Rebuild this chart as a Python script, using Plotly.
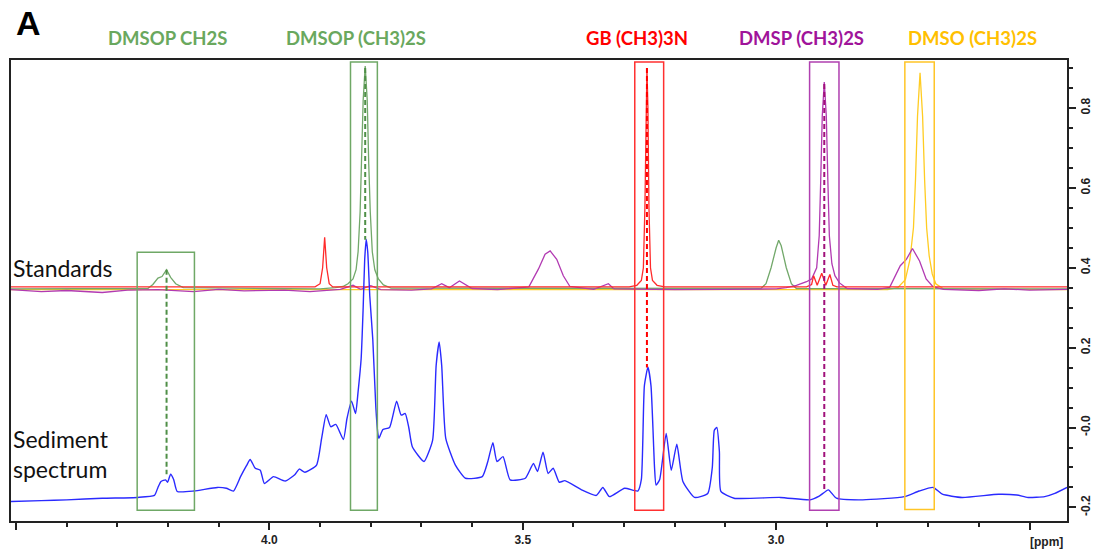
import plotly.graph_objects as go

# ---------------- data ----------------
blue_ppm = [4.51, 4.45, 4.40, 4.33, 4.26, 4.227, 4.22, 4.214, 4.205, 4.201, 4.195, 4.189, 4.182,
            4.149, 4.103, 4.085, 4.071, 4.057, 4.045, 4.038, 4.028, 4.018, 4.010, 3.992, 3.969,
            3.950, 3.941, 3.930, 3.907, 3.897, 3.888, 3.879, 3.869, 3.854, 3.847, 3.838, 3.830,
            3.825, 3.819, 3.815, 3.812, 3.809, 3.806, 3.802, 3.796, 3.790, 3.786, 3.784, 3.776,
            3.763, 3.749, 3.740, 3.732, 3.725, 3.718, 3.695, 3.678, 3.671, 3.665, 3.660, 3.652,
            3.633, 3.613, 3.580, 3.569, 3.559, 3.551, 3.539, 3.525, 3.495, 3.479, 3.471, 3.460,
            3.450, 3.440, 3.428, 3.417, 3.384, 3.355, 3.342, 3.329, 3.299, 3.273, 3.266, 3.260,
            3.253, 3.247, 3.240, 3.237, 3.230, 3.217, 3.207, 3.196, 3.184, 3.161, 3.135, 3.126,
            3.122, 3.117, 3.112, 3.109, 3.083, 2.992, 2.933, 2.915, 2.897, 2.881, 2.829, 2.747,
            2.718, 2.690, 2.672, 2.633, 2.561, 2.525, 2.503, 2.470, 2.450, 2.426]
blue_val = [-0.185, -0.183, -0.181, -0.177, -0.175, -0.170, -0.150, -0.135, -0.131, -0.137, -0.117,
            -0.130, -0.160, -0.159, -0.150, -0.152, -0.159, -0.123, -0.095, -0.080, -0.102, -0.107,
            -0.140, -0.123, -0.134, -0.118, -0.104, -0.112, -0.094, -0.027, 0.032, 0.002, 0.008,
            -0.030, 0.022, 0.066, 0.035, 0.090, 0.172, 0.300, 0.420, 0.471, 0.440, 0.330, 0.220,
            0.050, -0.015, -0.027, -0.005, 0.000, 0.066, 0.031, 0.035, 0.000, -0.048, -0.085,
            -0.032, 0.155, 0.214, 0.155, -0.027, -0.094, -0.127, -0.123, -0.085, -0.038, -0.085,
            -0.073, -0.131, -0.127, -0.090, -0.110, -0.062, -0.115, -0.102, -0.137, -0.133, -0.156,
            -0.170, -0.150, -0.173, -0.152, -0.159, -0.130, 0.105, 0.151, 0.105, -0.100, -0.144,
            -0.131, -0.015, -0.107, -0.042, -0.135, -0.175, -0.165, -0.100, -0.007, 0.000, -0.060,
            -0.160, -0.177, -0.175, -0.181, -0.172, -0.156, -0.177, -0.181, -0.173, -0.159, -0.150,
            -0.167, -0.175, -0.167, -0.169, -0.175, -0.173, -0.165, -0.150]

green_ppm = [4.51, 4.24, 4.23, 4.22, 4.212, 4.203, 4.195, 4.185, 4.17, 3.90, 3.87, 3.855, 3.845,
             3.835, 3.829, 3.825, 3.821, 3.818, 3.815, 3.811, 3.807, 3.804, 3.801, 3.797, 3.792,
             3.785, 3.775, 3.76, 3.03, 3.02, 3.01, 3.00, 2.995, 2.99, 2.98, 2.97, 2.96, 2.426]
green_val = [0.347, 0.348, 0.358, 0.374, 0.378, 0.395, 0.376, 0.360, 0.350, 0.347, 0.350, 0.353,
             0.360, 0.372, 0.395, 0.440, 0.540, 0.660, 0.820, 0.905, 0.820, 0.660, 0.540, 0.440,
             0.395, 0.372, 0.357, 0.349, 0.348, 0.360, 0.400, 0.450, 0.469, 0.455, 0.400, 0.360,
             0.348, 0.347]

red_ppm = [4.51, 3.91, 3.90, 3.895, 3.891, 3.887, 3.882, 3.875, 3.29, 3.275, 3.266, 3.262, 3.259,
           3.257, 3.255, 3.253, 3.251, 3.248, 3.244, 3.235, 3.22, 2.94, 2.93, 2.926, 2.919, 2.91,
           2.902, 2.894, 2.888, 2.88, 2.426]
red_val = [0.352, 0.352, 0.360, 0.400, 0.476, 0.400, 0.360, 0.352, 0.352, 0.356, 0.368, 0.400,
           0.550, 0.800, 0.900, 0.800, 0.550, 0.400, 0.368, 0.356, 0.352, 0.352, 0.358, 0.380,
           0.356, 0.386, 0.356, 0.383, 0.356, 0.352, 0.352]

purple_ppm = [4.51, 4.45, 4.40, 4.33, 4.28, 4.22, 4.15, 4.10, 4.05, 3.97, 3.92, 3.86, 3.835, 3.82,
              3.80, 3.78, 3.72, 3.68, 3.66, 3.645, 3.625, 3.60, 3.55, 3.488, 3.469, 3.456, 3.446,
              3.433, 3.420, 3.407, 3.36, 3.331, 3.32, 3.20, 3.10, 3.00, 2.98, 2.96, 2.94, 2.93,
              2.920, 2.915, 2.912, 2.909, 2.905, 2.901, 2.898, 2.895, 2.890, 2.884, 2.875, 2.86,
              2.80, 2.776, 2.755, 2.743, 2.731, 2.717, 2.704, 2.691, 2.67, 2.60, 2.55, 2.50, 2.426]
purple_val = [0.345, 0.340, 0.343, 0.338, 0.344, 0.345, 0.340, 0.346, 0.342, 0.344, 0.340, 0.346,
              0.356, 0.346, 0.355, 0.345, 0.344, 0.347, 0.360, 0.350, 0.367, 0.348, 0.345, 0.352,
              0.397, 0.434, 0.442, 0.421, 0.380, 0.353, 0.346, 0.360, 0.347, 0.345, 0.346, 0.347,
              0.350, 0.356, 0.365, 0.372, 0.400, 0.480, 0.620, 0.780, 0.865, 0.780, 0.620, 0.480,
              0.410, 0.380, 0.362, 0.348, 0.346, 0.351, 0.405, 0.421, 0.448, 0.417, 0.372, 0.353,
              0.346, 0.343, 0.347, 0.344, 0.346]

yellow_ppm = [4.51, 2.78, 2.76, 2.745, 2.736, 2.729, 2.725, 2.721, 2.716, 2.711, 2.707, 2.703,
              2.698, 2.692, 2.685, 2.670, 2.426]
yellow_val = [0.345, 0.345, 0.350, 0.370, 0.420, 0.500, 0.620, 0.780, 0.888, 0.780, 0.620, 0.500,
              0.430, 0.385, 0.360, 0.347, 0.345]

# boxes marking the assigned signals
box_ppm_left = [4.261, 3.840, 3.279, 2.934, 2.746]
box_ppm_right = [4.148, 3.787, 3.222, 2.876, 2.688]
box_top = [0.439, 0.915, 0.915, 0.915, 0.915]
box_bottom = [-0.207, -0.207, -0.207, -0.207, -0.205]
box_colors = ["#6fa866", "#6fa866", "#ff3030", "#b040b0", "#ffc527"]

# dashed links: standard peak -> sediment peak
link_ppm = [4.203, 3.811, 3.255, 2.905]
link_top = [0.395, 0.90, 0.90, 0.86]
link_bottom = [-0.117, 0.47, 0.15, -0.155]
link_colors = ["#4f8f47", "#4f8f47", "#ff0000", "#a0107a"]

# compound labels
label_text = ["DMSOP CH2S", "DMSOP (CH3)2S", "GB (CH3)3N", "DMSP (CH3)2S", "DMSO (CH3)2S"]
label_ppm = [4.202, 3.830, 3.275, 2.950, 2.613]
label_colors = ["#6aa85e", "#6aa85e", "#ff0000", "#a0149a", "#ffc000"]

x_tickvals = [4.5, 4.0, 3.5, 3.0, 2.5]
x_ticktext = ["", "<b>4.0</b>", "<b>3.5</b>", "<b>3.0</b>", ""]
y_tickvals = [-0.2, 0.0, 0.2, 0.4, 0.6, 0.8]
y_ticktext = ["<b>-0.2</b>", "<b>-0.0</b>", "<b>0.2</b>", "<b>0.4</b>", "<b>0.6</b>", "<b>0.8</b>"]

# ---------------- figure ----------------
fig = go.Figure()

for x0, x1, y0, y1, c in zip(box_ppm_left, box_ppm_right, box_top, box_bottom, box_colors):
    fig.add_shape(type="rect", xref="x", yref="y", x0=x0, x1=x1, y0=y0, y1=y1,
                  line=dict(color=c, width=1.5), fillcolor="rgba(0,0,0,0)", layer="above")

def line(xs, ys, color, width=1.3, shape="linear"):
    fig.add_trace(go.Scatter(x=xs, y=ys, mode="lines",
                             line=dict(color=color, width=width, shape=shape, smoothing=0.5),
                             hoverinfo="skip", showlegend=False))

line(yellow_ppm, yellow_val, "#ffcc22")
line(green_ppm, green_val, "#72a86a")
line(purple_ppm, purple_val, "#b23ab2")
line(red_ppm, red_val, "#ff2a2a")
line(blue_ppm, blue_val, "#2a2aff", 1.4, "spline")

for p, t, b, c in zip(link_ppm, link_top, link_bottom, link_colors):
    fig.add_trace(go.Scatter(x=[p, p], y=[t, b], mode="lines",
                             line=dict(color=c, width=2, dash="5px,3px"),
                             hoverinfo="skip", showlegend=False))

for txt, p, c in zip(label_text, label_ppm, label_colors):
    fig.add_annotation(text=f"<b>{txt}</b>", x=p, xref="x", y=1.047, yref="paper",
                       showarrow=False, font=dict(family="Lato", size=18.5, color=c),
                       xanchor="center", yanchor="middle")

fig.add_annotation(text="<b>A</b>", x=0.003, xref="paper", y=1.08, yref="paper",
                   showarrow=False, font=dict(family="Liberation Sans", size=34, color="black"),
                   xanchor="left", yanchor="middle")
fig.add_annotation(text="Standards", x=0.0, xref="paper", y=0.36, yref="y",
                   showarrow=False, font=dict(family="Lato", size=23, color="#111"),
                   xanchor="left", yanchor="bottom")
fig.add_annotation(text="Sediment<br>spectrum", x=0.0, xref="paper", y=-0.067, yref="y",
                   showarrow=False, font=dict(family="Lato", size=23, color="#111"),
                   xanchor="left", yanchor="middle", align="left")
fig.add_annotation(text="<b>[ppm]</b>", x=2.467, xref="x", y=-0.045, yref="paper",
                   showarrow=False, font=dict(family="Liberation Sans", size=12, color="#222"),
                   xanchor="center", yanchor="middle")

fig.update_layout(
    width=1102, height=556,
    margin=dict(l=9, r=30, t=60, b=32),
    paper_bgcolor="white", plot_bgcolor="white",
    xaxis=dict(range=[4.51, 2.426], tickvals=x_tickvals, ticktext=x_ticktext,
               ticks="outside", ticklen=7, tickwidth=1.5, tickcolor="#222",
               minor=dict(dtick=0.1, tick0=0, ticks="outside", ticklen=4, tickwidth=1.5, tickcolor="#222"),
               showgrid=False, zeroline=False, showline=True, linecolor="#222", linewidth=2,
               mirror=True, tickfont=dict(family="Liberation Sans", size=12, color="#222")),
    yaxis=dict(range=[-0.234, 0.92], side="right", tickvals=y_tickvals, ticktext=y_ticktext,
               ticks="outside", ticklen=7, tickwidth=1.5, tickcolor="#222", tickangle=-90,
               minor=dict(dtick=0.05, tick0=0, ticks="outside", ticklen=4, tickwidth=1.5, tickcolor="#222"),
               showgrid=False, zeroline=False, showline=True, linecolor="#222", linewidth=2,
               mirror=True, tickfont=dict(family="Liberation Sans", size=12, color="#222")),
)

fig.write_html("out.html")
